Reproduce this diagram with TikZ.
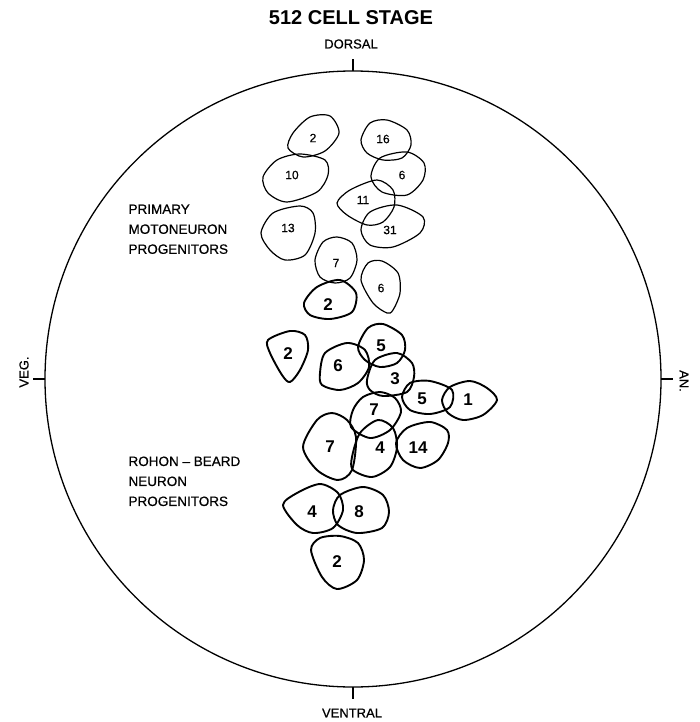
\documentclass[tikz,border=0pt]{standalone}
\usepackage{fontspec}
\setmainfont{Liberation Sans}
\newfontface\medface{Liberation Sans}[Ligatures=TeX,FakeBold=0.6]
\usetikzlibrary{positioning}

\begin{document}
\begin{tikzpicture}[x=1pt,y=-1pt,
    cellthin/.style={line width=1.2pt},
    cellbold/.style={line width=1.9pt},
    numthin/.style={font=\medface\fontsize{12}{12}\selectfont},
    numbold/.style={font=\bfseries\fontsize{17}{17}\selectfont},
    axislabel/.style={font=\medface\fontsize{13}{13}\selectfont},
    grouplabel/.style={font=\medface\fontsize{13.5}{20}\selectfont, align=left, anchor=north west}]
  \useasboundingbox (0,0) rectangle (699,722);

  % embryo outline and axes
  \coordinate (ctr) at (353,379);
  \draw[line width=1.3pt] (ctr) circle[radius=308];
  \coordinate (top) at (353,71);
  \coordinate (bot) at (353,687);
  \coordinate (lft) at (45,379);
  \coordinate (rgt) at (661,379);
  \draw[line width=1.2pt] (top) -- ++(0,-12) (bot) -- ++(0,12)
                          (lft) -- ++(-12,0) (rgt) -- ++(12,0);
  \node[font=\bfseries\fontsize{20}{20}\selectfont] (title) at (351,18) {512 CELL STAGE};
  \node[axislabel] (dorsal) at (351,44) {DORSAL};
  \node[axislabel] (ventral) at (352,713) {VENTRAL};
  \node[axislabel, rotate=90] (veg) at (24,372) {VEG.};
  \node[axislabel, rotate=-90] (an) at (684,381) {AN.};

  \node[grouplabel] (pmn) at (125,201) {PRIMARY\\MOTONEURON\\PROGENITORS};
  \node[grouplabel] (rb) at (125,453) {ROHON – BEARD\\NEURON\\PROGENITORS};

  % primary motoneuron progenitors
  \draw[cellthin] plot[smooth cycle] coordinates {(288,148) (303,157) (325,151) (339,133) (330,116) (310,117) (293,133)};
  \node[numthin] (m2) at (313,138) {2};
  \draw[cellthin] plot[smooth cycle] coordinates {(263,177) (277,160) (300,154) (325,160) (328,175) (317,192) (287,202) (268,193)};
  \node[numthin] (m10) at (292,175) {10};
  \draw[cellthin] plot[smooth cycle] coordinates {(361,140) (370,123) (387,120) (407,130) (411,145) (402,158) (383,160) (367,153)};
  \node[numthin] (m16) at (383,139) {16};
  \draw[cellthin] plot[smooth cycle] coordinates {(371,177) (380,158) (407,152) (424,163) (423,180) (407,195) (382,192)};
  \node[numthin] (m6a) at (402,175) {6};
  \draw[cellthin] plot[smooth cycle] coordinates {(337,203) (350,190) (377,180) (393,190) (394,207) (383,222) (367,225) (347,215)};
  \node[numthin] (m11) at (363,200) {11};
  \draw[cellthin] plot[smooth cycle] coordinates {(361,230) (370,212) (397,205) (423,217) (420,233) (393,247) (370,245)};
  \node[numthin] (m31) at (390,230) {31};
  \draw[cellthin] plot[smooth cycle] coordinates {(261,233) (273,213) (300,206) (313,213) (315,233) (305,255) (285,260) (270,250)};
  \node[numthin] (m13) at (288,228) {13};
  \draw[cellthin] plot[smooth cycle] coordinates {(315,260) (323,242) (337,237) (352,243) (357,260) (350,278) (335,283) (320,277)};
  \node[numthin] (m7) at (336,263) {7};
  \draw[cellthin] plot[smooth cycle] coordinates {(361,280) (368,263) (382,261) (398,273) (400,293) (393,310) (387,313) (373,303)};
  \node[numthin] (m6b) at (381,288) {6};
  \draw[cellbold] plot[smooth cycle] coordinates {(304,303) (317,287) (340,280) (356,293) (352,312) (330,319) (310,315)};
  \node[numbold] (m2b) at (328,305) {2};

  % rohon-beard neuron progenitors
  \draw[cellbold] plot[smooth cycle] coordinates {(268,340) (290,331) (305,335) (308,350) (300,370) (290,382) (282,375) (270,353)};
  \node[numbold] (r2a) at (288,354) {2};
  \draw[cellbold] plot[smooth cycle] coordinates {(320,373) (325,353) (347,343) (365,350) (369,367) (358,383) (340,390) (322,385)};
  \node[numbold] (r6) at (338,366) {6};
  \draw[cellbold] plot[smooth cycle] coordinates {(358,347) (368,328) (383,324) (402,335) (405,350) (397,363) (380,367) (365,360)};
  \node[numbold] (r5a) at (381,346) {5};
  \draw[cellbold] plot[smooth cycle] coordinates {(367,380) (375,360) (397,353) (412,363) (414,377) (407,392) (383,396) (370,390)};
  \node[numbold] (r3) at (395,379) {3};
  \draw[cellbold] plot[smooth cycle] coordinates {(402,397) (410,383) (430,381) (452,390) (450,407) (430,414) (410,410)};
  \node[numbold] (r5b) at (422,399) {5};
  \draw[cellbold] plot[smooth cycle] coordinates {(442,400) (450,387) (470,381) (487,388) (497,400) (483,415) (463,420) (448,413)};
  \node[numbold] (r1) at (468,400) {1};
  \draw[cellbold] plot[smooth cycle] coordinates {(351,427) (353,410) (363,397) (380,392) (395,398) (401,412) (390,430) (370,438)};
  \node[numbold] (r7a) at (374,410) {7};
  \draw[cellbold] plot[smooth cycle] coordinates {(317,420) (332,413) (347,420) (356,437) (352,470) (338,480) (317,470) (303,447)};
  \node[numbold] (r7b) at (330,447) {7};
  \draw[cellbold] plot[smooth cycle] coordinates {(352,457) (360,433) (378,420) (393,428) (397,447) (390,467) (372,477) (353,470)};
  \node[numbold] (r4a) at (380,448) {4};
  \draw[cellbold] plot[smooth cycle] coordinates {(396,443) (407,428) (430,422) (447,430) (448,443) (438,460) (420,468) (403,460)};
  \node[numbold] (r14) at (418,448) {14};
  \draw[cellbold] plot[smooth cycle] coordinates {(283,505) (297,493) (320,484) (338,493) (343,510) (333,528) (313,533) (297,525)};
  \node[numbold] (r4b) at (312,512) {4};
  \draw[cellbold] plot[smooth cycle] coordinates {(333,510) (340,495) (363,487) (383,495) (389,512) (382,528) (357,533) (338,525)};
  \node[numbold] (r8) at (359,512) {8};
  \draw[cellbold] plot[smooth cycle] coordinates {(311,550) (320,538) (340,536) (358,543) (364,560) (357,580) (337,589) (322,577)};
  \node[numbold] (r2b) at (337,562) {2};
\end{tikzpicture}
\end{document}
